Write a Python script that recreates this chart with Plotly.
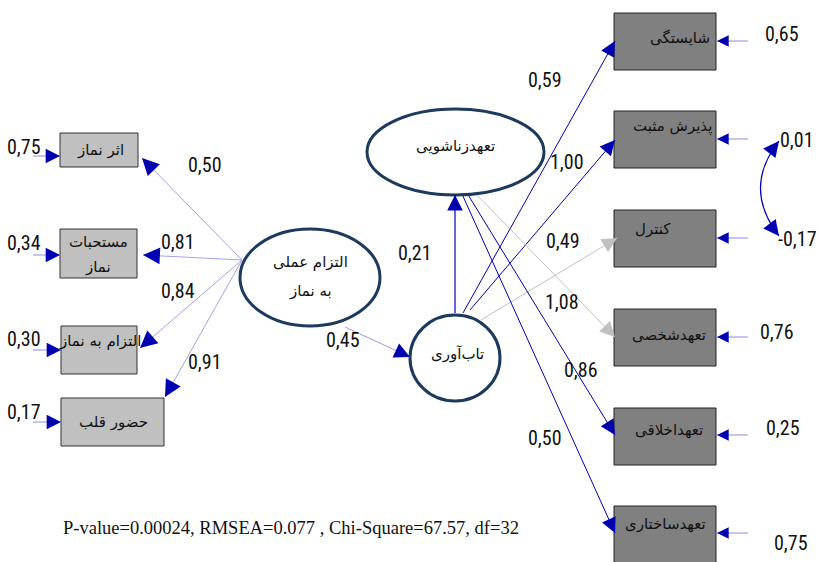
import math
import plotly.graph_objects as go

# ---------------- data ----------------
left_indicators = ["اثر نماز", "مستحبات<br>نماز", "التزام به نماز", "حضور قلب"]
left_loadings = [0.50, 0.81, 0.84, 0.91]
left_errors = [0.75, 0.34, 0.30, 0.17]

right_indicators = ["شایستگی", "پذیرش مثبت", "کنترل", "تعهدشخصی", "تعهداخلاقی", "تعهدساختاری"]
right_loadings = [0.59, 1.00, 0.49, 1.08, 0.86, 0.50]
right_errors = [0.65, 0.01, -0.17, 0.76, 0.25, 0.75]
right_sources = ["تاب‌آوری", "تاب‌آوری", "تاب‌آوری", "تعهدزناشویی", "تعهدزناشویی", "تعهدزناشویی"]

latents = ["التزام عملی<br>به نماز", "تاب‌آوری", "تعهدزناشویی"]
structural_paths = [("التزام عملی<br>به نماز", "تاب‌آوری", 0.45), ("تاب‌آوری", "تعهدزناشویی", 0.21)]
error_covariance = ("پذیرش مثبت", "کنترل")

fit_text = "P-value=0.00024, RMSEA=0.077 , Chi-Square=67.57, df=32"

# ---------------- layout (positions / styles) ----------------
W, H = 818, 562
left_boxes = [(60, 138, 133, 167), (60, 137, 229, 278), (61, 137, 326, 374), (61, 164, 398, 446)]
left_text_pos = [(100, 150), (98, 254), (100, 341), (113, 422)]
left_tips = [(142, 158), (143, 255), (140, 348), (165, 397)]
left_err_y = [156, 255, 350, 422]
left_load_lbl = [(205, 165), (178, 242), (178, 291), (205, 362)]
left_err_lbl = [(24, 147), (24, 243), (24, 339), (24, 412)]
left_origin = (242, 260)

right_boxes = [(614, 716, 13, 70), (614, 716, 111, 168), (614, 716, 210, 267),
               (614, 716, 309, 366), (614, 716, 408, 465), (614, 716, 506, 580)]
right_text_pos = [(680, 38), (672, 126), (653, 229), (669, 335), (669, 430), (665, 524)]
right_tips = [(615, 41), (615, 140), (617, 238), (615, 337), (615, 435), (615, 533)]
right_origins = [(463, 313), (470, 310), (481, 320), (473, 191), (467, 193), (462, 194)]
right_line_col = ["#0000b0", "#0000b0", "#c0c0c0", "#c0c0c0", "#0000b0", "#0000b0"]
right_err_y = [41, 139, 238, 337, 435, 533]
right_load_lbl = [(545, 80), (567, 162), (563, 241), (562, 302), (581, 370), (545, 438)]
right_err_lbl = [(782, 34), (797, 140), (797, 239), (777, 332), (783, 428), (791, 543)]

ellipses = {
    "التزام عملی<br>به نماز": (240, 380, 229, 326, (310, 276)),
    "تاب‌آوری": (410, 500, 315, 401, (457, 354)),
    "تعهدزناشویی": (367, 544, 109, 195, (455, 146)),
}
path_geom = [((345, 327), (410, 357), (343, 340)), ((455, 313), (455, 195), (415, 253))]

NUM_FONT = dict(family="Liberation Sans Narrow, Arial Narrow, Roboto Condensed, sans-serif",
                size=20, color="#111111")
FA_FONT = dict(family="DejaVu Sans, sans-serif", size=15, color="#111111")
DARK = "#0000b0"
LIGHT = "#8c8ce6"
NAVY = "#1c3a5e"


def fmt(v):
    return f"{v:.2f}".replace(".", ",")


fig = go.Figure()
shapes = []
ann = []


def head(tip, frm, color=DARK, length=9, size=2.4):
    dx, dy = tip[0] - frm[0], tip[1] - frm[1]
    d = math.hypot(dx, dy)
    tail = (tip[0] - dx / d * length, tip[1] - dy / d * length)
    ann.append(dict(x=tip[0], y=tip[1], ax=tail[0], ay=tail[1], xref="x", yref="y",
                    axref="x", ayref="y", showarrow=True, arrowhead=2, arrowsize=size,
                    arrowwidth=1.3, arrowcolor=color, text=""))


def line(a, b, color, width):
    shapes.append(dict(type="line", x0=a[0], y0=a[1], x1=b[0], y1=b[1], xref="x", yref="y",
                       line=dict(color=color, width=width)))


def text(x, y, s, font):
    ann.append(dict(x=x, y=y, xref="x", yref="y", text=s, showarrow=False, font=font))


# left indicators
for i, name in enumerate(left_indicators):
    x0, x1, y0, y1 = left_boxes[i]
    shapes.append(dict(type="rect", x0=x0, x1=x1, y0=y0, y1=y1, xref="x", yref="y",
                       fillcolor="#c0c0c0", line=dict(color="#333333", width=1)))
    if "<br>" in name:
        a, b = name.split("<br>")
        text(left_text_pos[i][0], left_text_pos[i][1] - 12, a, FA_FONT)
        text(left_text_pos[i][0], left_text_pos[i][1] + 13, b, FA_FONT)
    else:
        text(*left_text_pos[i], name, FA_FONT)
    line(left_origin, left_tips[i], LIGHT, 0.8)
    head(left_tips[i], left_origin, size=2.6)
    text(*left_load_lbl[i], fmt(left_loadings[i]), NUM_FONT)
    # error arrow
    line((33, left_err_y[i]), (x0, left_err_y[i]), LIGHT, 1)
    head((x0, left_err_y[i]), (33, left_err_y[i]), size=2.2)
    text(*left_err_lbl[i], fmt(left_errors[i]), NUM_FONT)

# right indicators
for i, name in enumerate(right_indicators):
    x0, x1, y0, y1 = right_boxes[i]
    shapes.append(dict(type="rect", x0=x0, x1=x1, y0=y0, y1=y1, xref="x", yref="y",
                       fillcolor="#808080", line=dict(color="#222222", width=1)))
    text(*right_text_pos[i], name, FA_FONT)
    col = right_line_col[i]
    line(right_origins[i], right_tips[i], col, 1)
    head(right_tips[i], right_origins[i], color=col, size=2.3)
    text(*right_load_lbl[i], fmt(right_loadings[i]), NUM_FONT)
    ey = right_err_y[i]
    line((748, ey), (x1, ey), LIGHT, 1)
    head((x1 + 1, ey), (748, ey), size=1.8)
    text(*right_err_lbl[i], fmt(right_errors[i]), NUM_FONT)

# latent ellipses
for name in latents:
    x0, x1, y0, y1, (tx, ty) = ellipses[name]
    shapes.append(dict(type="circle", x0=x0, x1=x1, y0=y0, y1=y1, xref="x", yref="y",
                       fillcolor="white", line=dict(color=NAVY, width=3)))
    if "<br>" in name:
        a, b = name.split("<br>")
        text(tx, ty - 14, a, FA_FONT)
        text(tx, ty + 15, b, FA_FONT)
    else:
        text(tx, ty, name, FA_FONT)

# structural paths
for (src, dst, v), (a, b, lbl) in zip(structural_paths, path_geom):
    col = LIGHT if src.startswith("التزام") else DARK
    line(a, b, col, 0.9 if col == LIGHT else 1.2)
    head(b, a, size=2.4)
    text(*lbl, fmt(v), NUM_FONT)

# error covariance (curved double-headed)
p0, pc, p1 = (779, 141), (742, 188), (779, 236)
shapes.append(dict(type="path", path=f"M {p0[0]},{p0[1]} Q {pc[0]},{pc[1]} {p1[0]},{p1[1]}",
                   xref="x", yref="y", line=dict(color=DARK, width=1.2)))
head(p0, pc, length=7, size=2.4)
head(p1, pc, length=7, size=2.4)

# fit statistics
ann.append(dict(x=291, y=528, xref="x", yref="y", text=fit_text, showarrow=False,
                font=dict(family="Liberation Serif, Times New Roman, serif", size=18.5, color="#111111")))

fig.update_layout(
    width=W, height=H, margin=dict(l=0, r=0, t=0, b=0),
    paper_bgcolor="white", plot_bgcolor="white",
    xaxis=dict(range=[0, W], visible=False, fixedrange=True),
    yaxis=dict(range=[H, 0], visible=False, fixedrange=True),
    shapes=shapes, annotations=ann, showlegend=False,
)
fig.write_html("out.html", config={"displayModeBar": False},
               post_script="document.body.style.margin='0';document.body.style.overflow='hidden';")
